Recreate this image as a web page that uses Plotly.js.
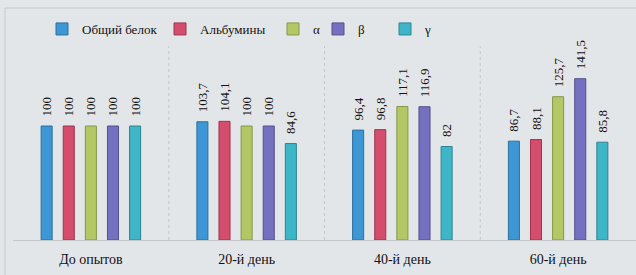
<!DOCTYPE html>
<html>
<head>
<meta charset="utf-8">
<script src="https://cdn.plot.ly/plotly-3.0.1.min.js"></script>
<style>
html,body{margin:0;padding:0;background:#e3e6e9;}
#chart{width:636px;height:275px;}
</style>
</head>
<body>
<div id="chart"></div>
<script>
const categories = ["До опытов", "20-й день", "40-й день", "60-й день"];
const seriesNames = ["Общий белок", "Альбумины", "α", "β", "γ"];
const totalProtein = [100, 103.7, 96.4, 86.7];
const albumins = [100, 104.1, 96.8, 88.1];
const alpha = [100, 100, 117.1, 125.7];
const beta = [100, 100, 116.9, 141.5];
const gamma = [100, 84.6, 82, 85.8];

const seriesValues = [totalProtein, albumins, alpha, beta, gamma];
const colors = ["#3d97d4", "#d44d6d", "#b3c864", "#7670c0", "#3fb6c8"];
const borders = ["#2c6f9e", "#9c3550", "#869648", "#54508c", "#2c8491"];
const legendTextX = [82, 200, 313, 358, 425];

const L = 13, W = 623, T = 12, H = 228;
const fmt = v => String(v).replace('.', ',');

const traces = seriesValues.map((vals, i) => ({
  type: 'bar',
  name: seriesNames[i],
  x: categories,
  y: vals,
  text: vals.map(v => fmt(v)),
  texttemplate: '\u00a0\u00a0%{text}',
  textposition: 'outside',
  textangle: -90,
  constraintext: 'none',
  cliponaxis: false,
  textfont: {family: 'Liberation Serif', size: 13, color: '#111'},
  marker: {color: colors[i], line: {color: borders[i], width: 1}},
  legend: i === 0 ? 'legend' : 'legend' + (i + 1)
}));

const layout = {
  width: 636, height: 275,
  margin: {l: L, r: 0, t: T, b: 275 - T - H},
  paper_bgcolor: '#e3e6e9',
  plot_bgcolor: 'rgba(0,0,0,0)',
  barmode: 'group',
  bargap: 0.29,
  bargroupgap: 0.5,
  font: {family: 'Liberation Serif', color: '#111'},
  xaxis: {
    type: 'category',
    showgrid: false, zeroline: false,
    showline: true, linecolor: '#c4c7ca', linewidth: 1,
    ticks: '', ticklen: 0,
    ticklabelstandoff: 6,
    tickfont: {family: 'Liberation Serif', size: 14, color: '#111'},
    range: [-0.5, 3.5]
  },
  yaxis: {range: [0, 200], visible: false, showgrid: false, zeroline: false},
  showlegend: true,
  shapes: [
    ...[0.5, 1.5, 2.5].map(xv => ({
      type: 'line', xref: 'x', yref: 'y', x0: xv, x1: xv, y0: 0, y1: 170,
      line: {color: '#c4c7ca', width: 1, dash: 'dot'}
    })),
    {type: 'line', xref: 'paper', yref: 'paper',
     x0: (5 - L) / W, x1: (5 - L) / W, y0: -0.2, y1: (T + H - 8) / H,
     line: {color: '#c6c9cc', width: 1}},
    {type: 'line', xref: 'paper', yref: 'paper',
     x0: (5 - L) / W, x1: 1.05, y0: (T + H - 8) / H, y1: (T + H - 8) / H,
     line: {color: '#c6c9cc', width: 1}}
  ]
};

seriesNames.forEach((n, i) => {
  const key = i === 0 ? 'legend' : 'legend' + (i + 1);
  layout[key] = {
    x: (legendTextX[i] - 40 - L) / W, xanchor: 'left',
    y: (T + H - 29) / H, yanchor: 'middle',
    orientation: 'h',
    bgcolor: 'rgba(0,0,0,0)',
    font: {family: 'Liberation Serif', size: 13, color: '#111'},
    itemwidth: 30
  };
});

Plotly.newPlot('chart', traces, layout, {displayModeBar: false, staticPlot: true});
</script>
</body>
</html>
